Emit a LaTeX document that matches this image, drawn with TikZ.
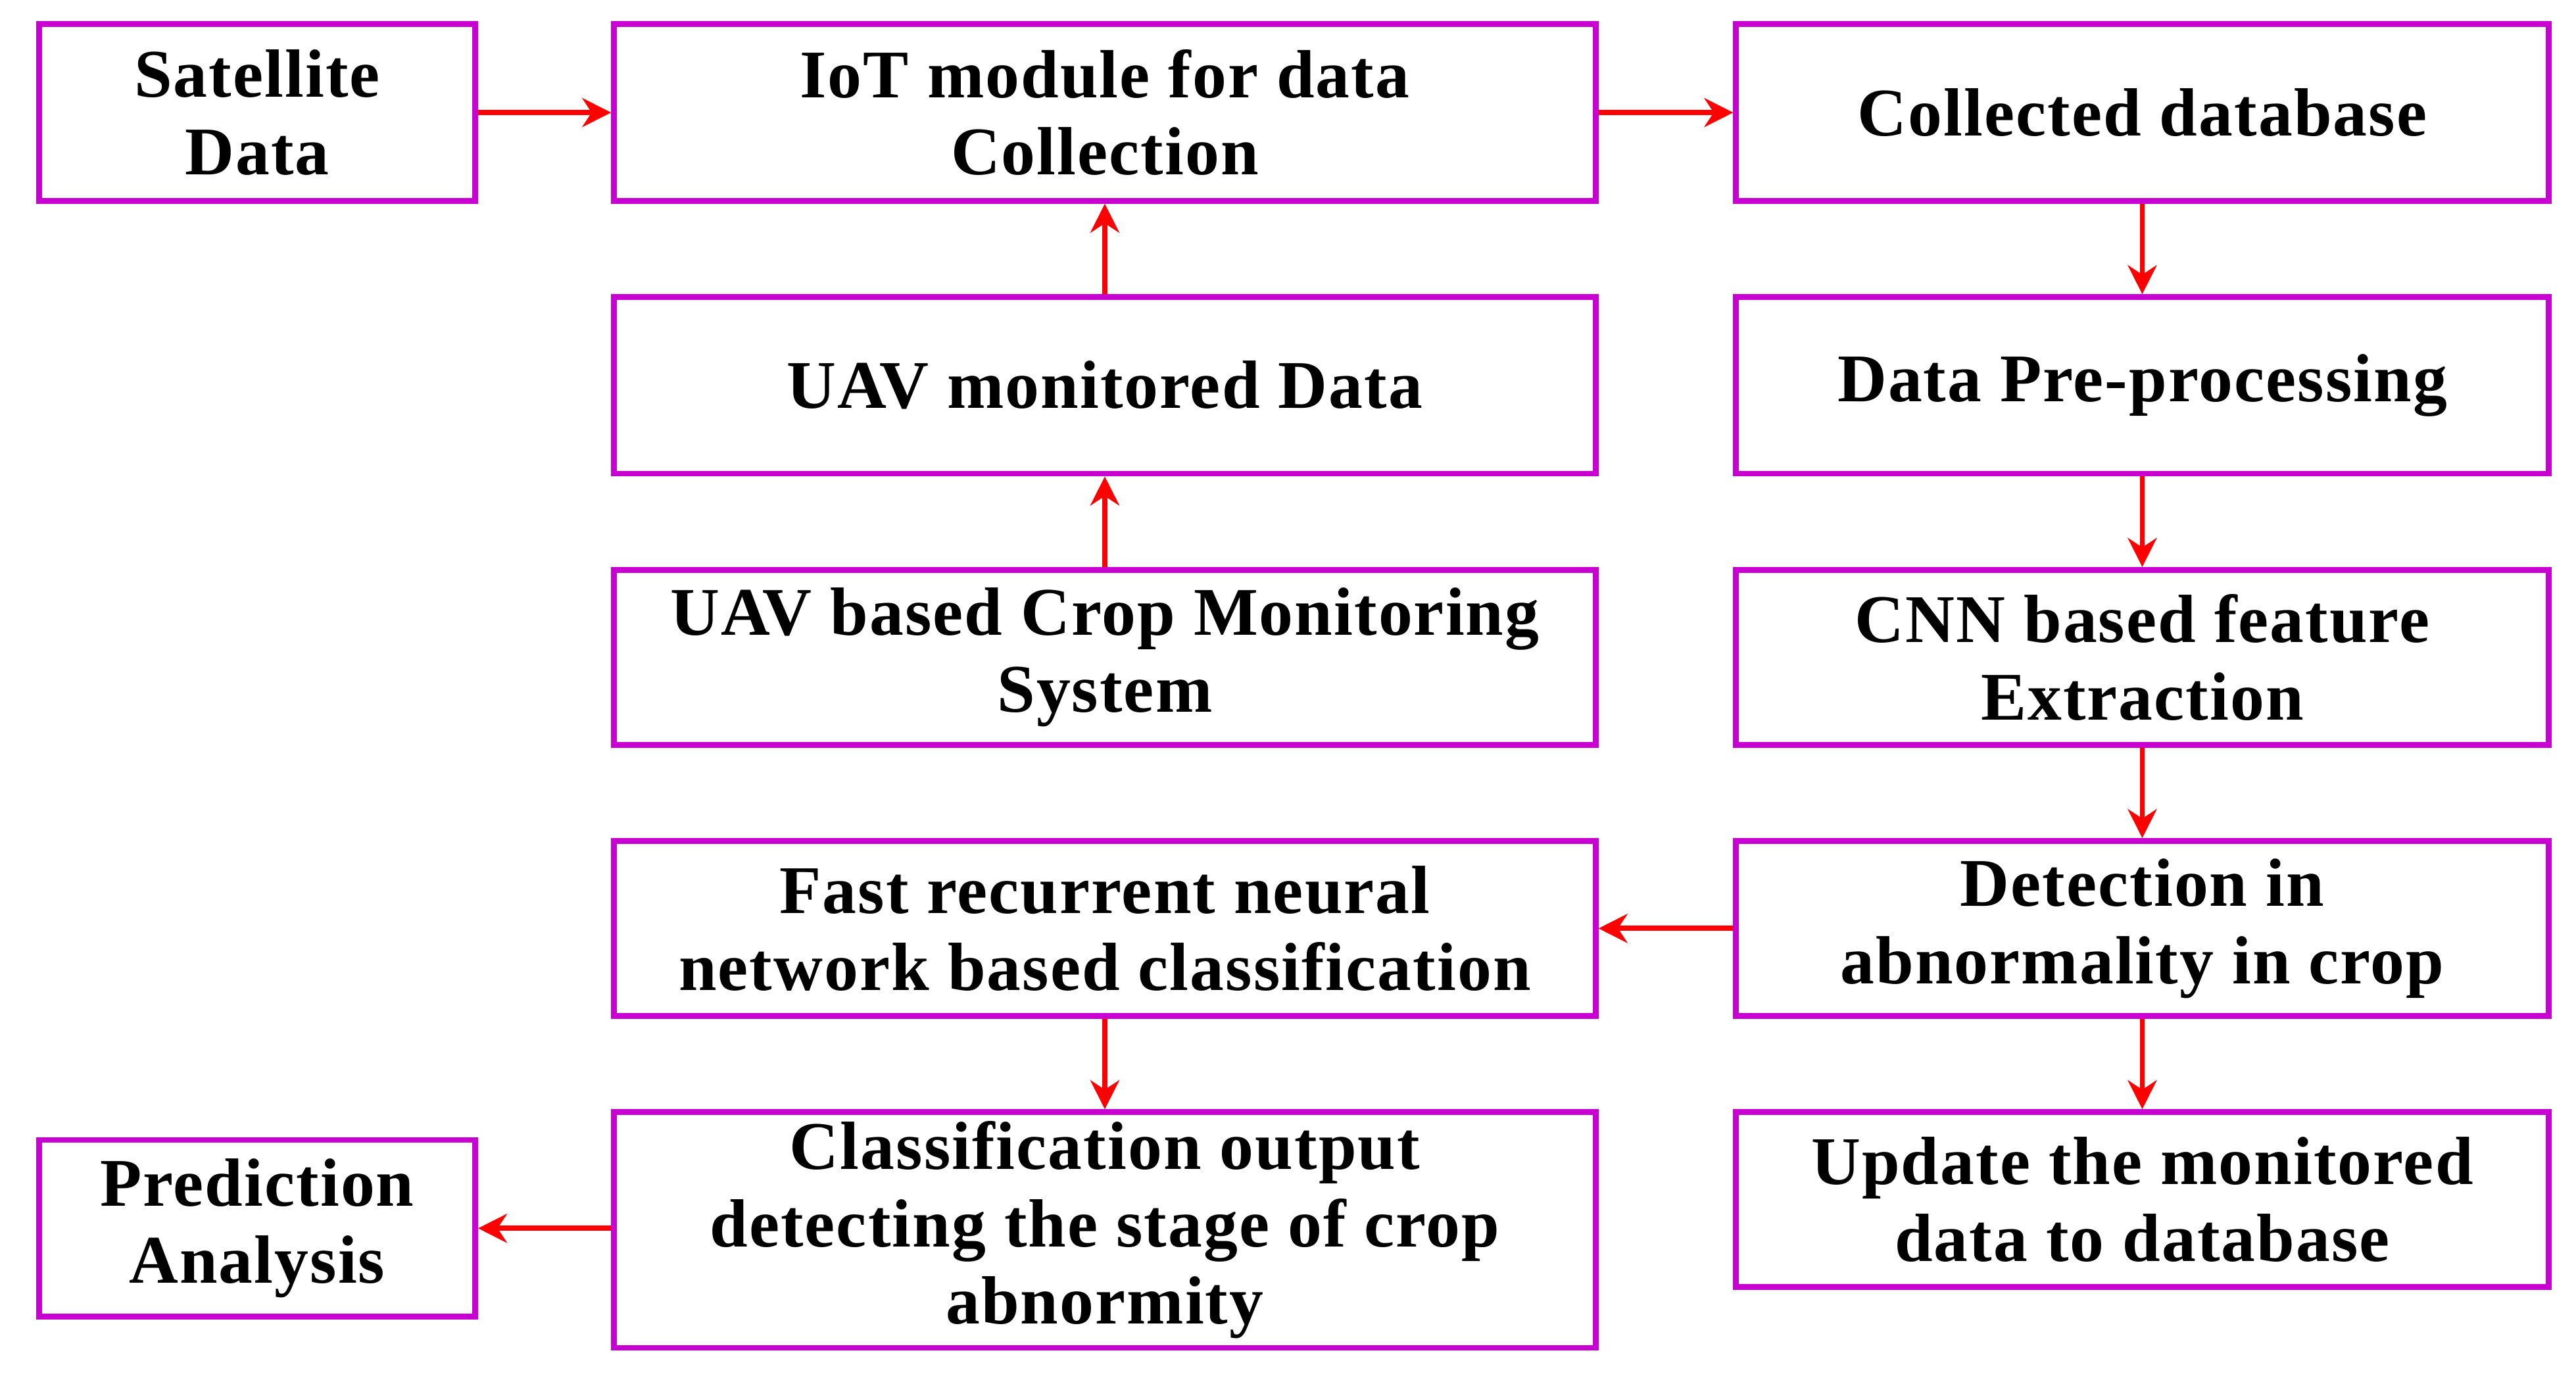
\documentclass[tikz,border=0pt]{standalone}
\usepackage{fontspec}
\setmainfont{Liberation Serif}[LetterSpace=2]
\usetikzlibrary{arrows.meta}
\definecolor{mag}{RGB}{200,0,210}
\begin{document}
\begin{tikzpicture}[x=0.01cm,y=-0.01cm,
 box/.style={draw=mag,line width=1pt,inner sep=0pt,align=center,font=\fontsize{11.8}{13.4}\selectfont\bfseries},
 arr/.style={draw=red,line width=0.9pt,-{Stealth[length=5pt,width=5pt]}}]
\useasboundingbox (0,0) rectangle (1568,842);
\newcommand\bx[6]{\node[box,minimum width=#4*0.01cm-1pt,minimum height=#5*0.01cm-1pt] (#1) at (#2,#3) {#6};}
\bx{sat}{156.5}{68.5}{269}{111}{Satellite\\Data}
\bx{iot}{672.5}{68.5}{601}{111}{IoT module for data\\Collection}
\bx{col}{1304}{68.5}{498}{111}{Collected database}
\bx{uavm}{672.5}{234.5}{601}{111}{UAV monitored Data}
\bx{pre}{1304}{234.5}{498}{111}{Data Pre-processing}
\bx{uavb}{672.5}{400}{601}{110}{UAV based Crop Monitoring\\System}
\bx{cnn}{1304}{400}{498}{110}{CNN based feature\\Extraction}
\bx{fast}{672.5}{565}{601}{110}{Fast recurrent neural\\network based classification}
\bx{det}{1304}{565}{498}{110}{Detection in\\abnormality in crop}
\bx{cls}{672.5}{748.5}{601}{147}{Classification output\\detecting the stage of crop\\abnormity}
\bx{upd}{1304}{730}{498}{110}{Update the monitored\\data to database}
\bx{pred}{156.5}{747.5}{269}{111}{Prediction\\Analysis}
\draw[arr] (sat) -- (iot);
\draw[arr] (iot) -- (col);
\draw[arr] (uavm) -- (iot);
\draw[arr] (uavb) -- (uavm);
\draw[arr] (col) -- (pre);
\draw[arr] (pre) -- (cnn);
\draw[arr] (cnn) -- (det);
\draw[arr] (det) -- (fast);
\draw[arr] (det) -- (upd);
\draw[arr] (fast) -- (cls);
\draw[arr] (cls.west|-pred) -- (pred);
\end{tikzpicture}
\end{document}
